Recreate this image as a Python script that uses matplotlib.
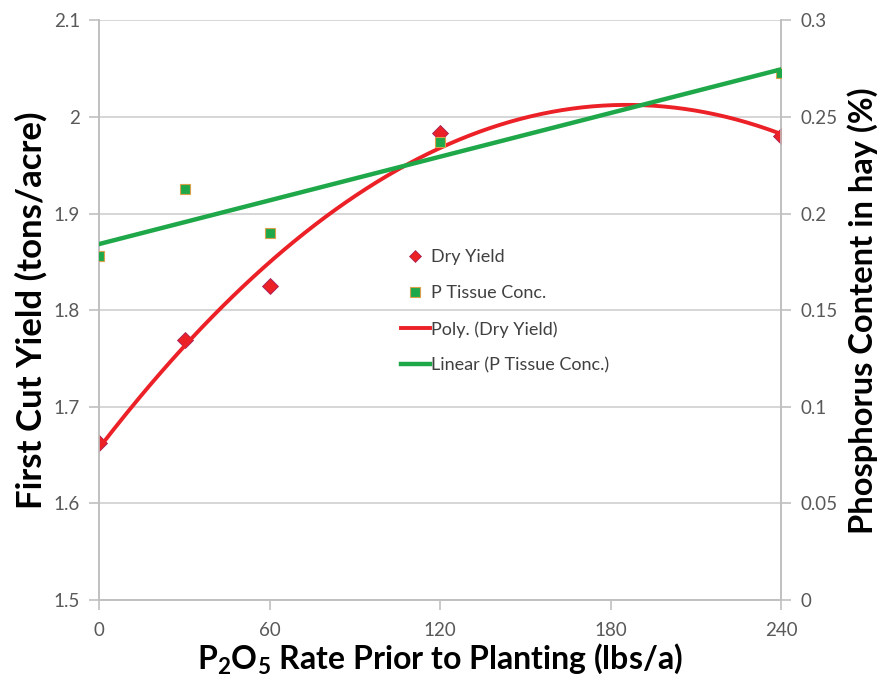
import numpy as np
import matplotlib
matplotlib.use("Agg")
import matplotlib.pyplot as plt
from matplotlib.lines import Line2D

plt.rcParams['font.family'] = ['Lato', 'DejaVu Sans']
plt.rcParams['mathtext.fontset'] = 'custom'
plt.rcParams['mathtext.rm'] = 'Lato:bold'
plt.rcParams['mathtext.default'] = 'rm'

# data
rate = [0, 30, 60, 120, 240]
dry_yield = [1.663, 1.769, 1.825, 1.984, 1.980]
p_tissue = [0.178, 0.213, 0.190, 0.237, 0.273]

x_ticks = [0, 60, 120, 180, 240]
left_ticks = [1.5, 1.6, 1.7, 1.8, 1.9, 2.0, 2.1]
left_labels = ['1.5', '1.6', '1.7', '1.8', '1.9', '2', '2.1']
right_ticks = [0, 0.05, 0.1, 0.15, 0.2, 0.25, 0.3]
right_labels = ['0', '0.05', '0.1', '0.15', '0.2', '0.25', '0.3']

red = '#ec2127'
green = '#1fa84a'
grid_c = '#d0d0d0'
tick_c = '#595959'

# excel-style trendlines
poly = np.polyfit(rate, dry_yield, 2)
lin = np.polyfit(rate, p_tissue, 1)
xs = np.linspace(0, 240, 200)

fig = plt.figure(figsize=(8.9, 6.94), dpi=100)
ax = fig.add_axes([0.1116, 0.1354, 0.7659, 0.8351])
ax2 = ax.twinx()

ax.set_xlim(0, 240)
ax.set_ylim(1.5, 2.1)
ax2.set_ylim(0, 0.3)

ax.set_yticks(left_ticks)
ax.set_yticklabels(left_labels)
ax2.set_yticks(right_ticks)
ax2.set_yticklabels(right_labels)
ax.set_xticks(x_ticks)

ax.grid(axis='y', color=grid_c, linewidth=1.2)
ax.set_axisbelow(True)

for a in (ax, ax2):
    a.spines['top'].set_visible(False)
    for s in ('left', 'right', 'bottom'):
        a.spines[s].set_color('#c0c0c0')
        a.spines[s].set_linewidth(1.2)
    a.tick_params(colors=tick_c, labelsize=13.5, length=7, width=1.2)
    a.tick_params(axis='both', color='#c0c0c0')

ax.tick_params(axis='x', pad=9)
ax.tick_params(axis='y', pad=7)
ax2.tick_params(axis='y', pad=7)

ax.plot(rate, dry_yield, linestyle='none', marker='D', markersize=8,
        color=red, markeredgecolor='#a0205a', markeredgewidth=0.6, zorder=3)
ax2.plot(rate, p_tissue, linestyle='none', marker='s', markersize=6.5,
         color=green, markeredgecolor='#d9a24a', markeredgewidth=0.8, zorder=3)
ax.plot(xs, np.polyval(poly, xs), color=red, linewidth=2.8, zorder=4)
ax2.plot(xs, np.polyval(lin, xs), color=green, linewidth=3.2, zorder=4)

ax.set_ylabel('First Cut Yield (tons/acre)', fontsize=25, fontweight='bold',
              labelpad=4)
ax2.set_ylabel('Phosphorus Content in hay (%)', fontsize=23.5,
               fontweight='bold', labelpad=7)
ax.set_xlabel('P$_2$O$_5$ Rate Prior to Planting (lbs/a)', fontsize=23,
              fontweight='bold', labelpad=2)

handles = [
    Line2D([], [], linestyle='none', marker='D', markersize=6.5, color=red,
           markeredgecolor='#a0205a', markeredgewidth=0.5),
    Line2D([], [], linestyle='none', marker='s', markersize=6.5, color=green,
           markeredgecolor='#d9a24a', markeredgewidth=0.8),
    Line2D([], [], color=red, linewidth=2.8),
    Line2D([], [], color=green, linewidth=3.2),
]
labels = ['Dry Yield', 'P Tissue Conc.', 'Poly. (Dry Yield)',
          'Linear (P Tissue Conc.)']
fig.legend(handles, labels, loc='upper left', bbox_to_anchor=(0.432, 0.664),
           frameon=False, fontsize=13, labelspacing=1.1, handlelength=1.6,
           handletextpad=0.1, labelcolor='#404040')

fig.savefig('out.png', dpi=100)
